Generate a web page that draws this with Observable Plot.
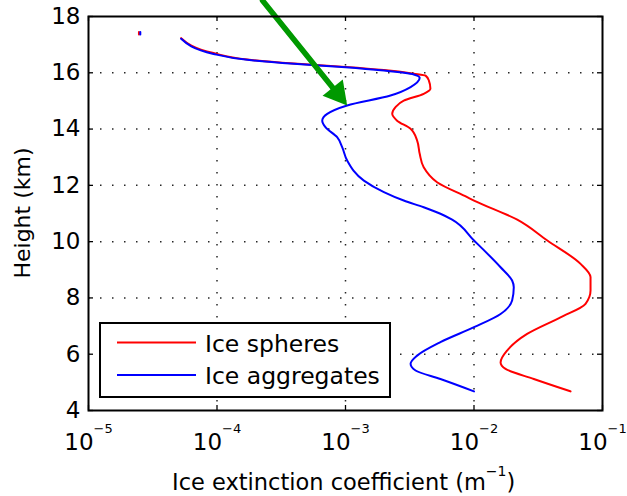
<!DOCTYPE html>
<html><head><meta charset="utf-8">
<script src="https://cdn.jsdelivr.net/npm/d3@7"></script>
<script src="https://cdn.jsdelivr.net/npm/@observablehq/plot@0.6"></script>
<style>body{margin:0;background:#fff} #chart{width:627px;height:496px}</style>
</head><body><div id="chart"></div>
<script>
// ---- data ----
const xTicks = [1e-5, 1e-4, 1e-3, 1e-2, 1e-1];
const xGrid = [1e-4, 1e-3, 1e-2];
const yTicks = [4, 6, 8, 10, 12, 14, 16, 18];
const yGrid = [6, 8, 10, 12, 14, 16];
const seriesNames = ["Ice spheres", "Ice aggregates"];
const seriesColors = ["#ff0000", "#0000ff"];

const sphereH = [17.23, 16.70, 16.47, 16.33, 16.21, 16.10, 15.97, 15.90, 15.73, 15.43, 15.25, 15.01, 14.78, 14.54, 14.30, 14.01, 13.59, 13.12, 12.64, 12.11, 11.58, 11.46, 10.78, 10.04, 9.21, 8.74, 8.26, 7.79, 7.31, 6.72, 6.13, 5.71, 5.48, 5.12, 4.68];
const sphereExt = [5.26e-5, 9.4e-5, 1.72e-4, 3.96e-4, 1.0e-3, 1.99e-3, 3.40e-3, 4.20e-3, 4.45e-3, 4.58e-3, 4.06e-3, 2.84e-3, 2.45e-3, 2.31e-3, 2.52e-3, 3.21e-3, 3.61e-3, 3.78e-3, 4.06e-3, 5.16e-3, 8.85e-3, 1.0e-2, 2.17e-2, 3.72e-2, 6.75e-2, 8.07e-2, 8.07e-2, 7.38e-2, 4.71e-2, 2.59e-2, 1.81e-2, 1.61e-2, 1.76e-2, 2.92e-2, 5.64e-2];

const aggH = [17.21, 16.67, 16.46, 16.32, 16.20, 16.08, 15.94, 15.82, 15.49, 15.19, 14.84, 14.54, 14.30, 14.07, 13.71, 13.36, 12.88, 12.17, 11.76, 11.46, 11.22, 10.99, 10.78, 10.04, 9.09, 8.62, 8.38, 7.91, 7.43, 6.96, 6.43, 5.95, 5.66, 5.42, 5.12, 4.68];
const aggExt = [5.26e-5, 9.4e-5, 1.72e-4, 3.96e-4, 1.0e-3, 1.99e-3, 3.40e-3, 3.78e-3, 3.21e-3, 2.24e-3, 1.03e-3, 7.21e-4, 6.59e-4, 6.98e-4, 8.61e-4, 9.42e-4, 1.03e-3, 1.39e-3, 1.99e-3, 2.84e-3, 4.06e-3, 5.48e-3, 6.76e-3, 1.0e-2, 1.61e-2, 1.98e-2, 2.04e-2, 1.98e-2, 1.61e-2, 1.0e-2, 5.48e-3, 3.61e-3, 3.21e-3, 3.51e-3, 5.48e-3, 1.0e-2];

// isolated top-level fragment of both profiles
const sphereSpeckExt = [2.47e-5, 2.47e-5];
const aggSpeckExt = [2.53e-5, 2.53e-5];
const speckH = [17.45, 17.36];

// annotation arrow (shaft start, head base, tip) in data coordinates
const arrowExt = [2.26e-4, 8.05e-4];
const arrowH = [18.57, 15.445];
const arrowTipExt = [1.03e-3];
const arrowTipH = [14.84];

// ---- tables ----
const spheres = sphereH.map((h, i) => ({h, e: sphereExt[i]}));
const aggregates = aggH.map((h, i) => ({h, e: aggExt[i]}));
const sphereSpeck = speckH.map((h, i) => ({h, e: sphereSpeckExt[i]}));
const aggSpeck = speckH.map((h, i) => ({h, e: aggSpeckExt[i]}));
const arrowShaft = arrowH.map((h, i) => ({h, e: arrowExt[i]}));
const arrowTip = arrowTipH.map((h, i) => ({h, e: arrowTipExt[i]}));

const W = 627, H = 496, mL = 88, mR = 25, mT = 16, mB = 86;
const fw = W - mL - mR, fh = H - mT - mB;
const green = "#009900";
const headSymbol = {
  draw(ctx) { ctx.moveTo(0, 0); ctx.lineTo(13, 23); ctx.lineTo(-13, 23); ctx.closePath(); }
};

const plot = Plot.plot({
  width: W, height: H,
  marginLeft: mL, marginRight: mR, marginTop: mT, marginBottom: mB,
  style: {fontFamily: "'DejaVu Sans', sans-serif", fontSize: "22px", background: "white", color: "black", overflow: "visible"},
  x: {type: "log", domain: [1e-5, 1e-1]},
  y: {domain: [4, 18]},
  marks: [
    Plot.gridX(xGrid, {stroke: "#000", strokeOpacity: 0.85, strokeWidth: 1.5, strokeDasharray: "1.5,10.5"}),
    Plot.gridY(yGrid, {stroke: "#000", strokeOpacity: 0.85, strokeWidth: 1.5, strokeDasharray: "1.5,10.5"}),
    Plot.tickX(xTicks, {x: d => d, insetTop: fh - 5, stroke: "#000", strokeWidth: 1.3}),
    Plot.tickX(xTicks, {x: d => d, insetBottom: fh - 5, stroke: "#000", strokeWidth: 1.3}),
    Plot.tickY(yTicks, {y: d => d, insetRight: fw - 5, stroke: "#000", strokeWidth: 1.3}),
    Plot.tickY(yTicks, {y: d => d, insetLeft: fw - 5, stroke: "#000", strokeWidth: 1.3}),
    Plot.axisX(xTicks, {tickSize: 0, tickPadding: 23, label: null, tickFormat: d => "10^" + Math.round(Math.log10(d))}),
    Plot.axisY(yTicks, {tickSize: 0, tickPadding: 8, label: null}),
    Plot.line(spheres, {x: "e", y: "h", stroke: seriesColors[0], strokeWidth: 2, curve: "monotone-y"}),
    Plot.line(aggregates, {x: "e", y: "h", stroke: seriesColors[1], strokeWidth: 2, curve: "monotone-y"}),
    Plot.line(sphereSpeck, {x: "e", y: "h", stroke: seriesColors[0], strokeWidth: 2}),
    Plot.line(aggSpeck, {x: "e", y: "h", stroke: seriesColors[1], strokeWidth: 2}),
    Plot.line(arrowShaft, {x: "e", y: "h", stroke: green, strokeWidth: 5.5}),
    Plot.dot(arrowTip, {x: "e", y: "h", symbol: headSymbol, fill: green, stroke: "none", rotate: 141}),
    Plot.frame({stroke: "#000", strokeWidth: 2})
  ]
});
document.getElementById("chart").appendChild(plot);

const svg = d3.select(plot);
// x tick labels: 10 with superscript exponent
svg.selectAll('g[aria-label="x-axis tick label"] text').each(function () {
  const t = d3.select(this);
  const exp = t.text().split("^")[1].replace("-", "\u2212");
  t.text(null).attr("font-size", 23);
  t.append("tspan").text("10");
  t.append("tspan").attr("dy", -17).attr("font-size", 13).text(exp);
});
svg.selectAll('g[aria-label="y-axis tick label"] text').attr("font-size", 23);

// axis titles
const xl = svg.append("text").attr("x", 172).attr("y", 490)
  .attr("text-anchor", "start").attr("font-size", 22.5).attr("fill", "#000");
xl.append("tspan").text("Ice extinction coefficient (m");
xl.append("tspan").attr("dy", -14).attr("font-size", 14).text("\u22121");
xl.append("tspan").attr("dy", 14).text(")");
svg.append("text").attr("transform", `translate(30,${mT + fh / 2}) rotate(-90)`)
  .attr("text-anchor", "middle").attr("font-size", 22).attr("fill", "#000").text("Height (km)");

// legend
const lg = svg.append("g").attr("text-anchor", "start");
lg.append("rect").attr("x", 100).attr("y", 323).attr("width", 290).attr("height", 74)
  .attr("fill", "#fff").attr("stroke", "#000").attr("stroke-width", 2);
seriesNames.forEach((name, i) => {
  const y = 342.5 + i * 32.5;
  lg.append("line").attr("x1", 117).attr("x2", 196).attr("y1", y).attr("y2", y)
    .attr("stroke", seriesColors[i]).attr("stroke-width", 2);
  lg.append("text").attr("x", 205).attr("y", y + 9).attr("font-size", 23.5).attr("fill", "#000").text(name);
});
</script>
</body></html>
